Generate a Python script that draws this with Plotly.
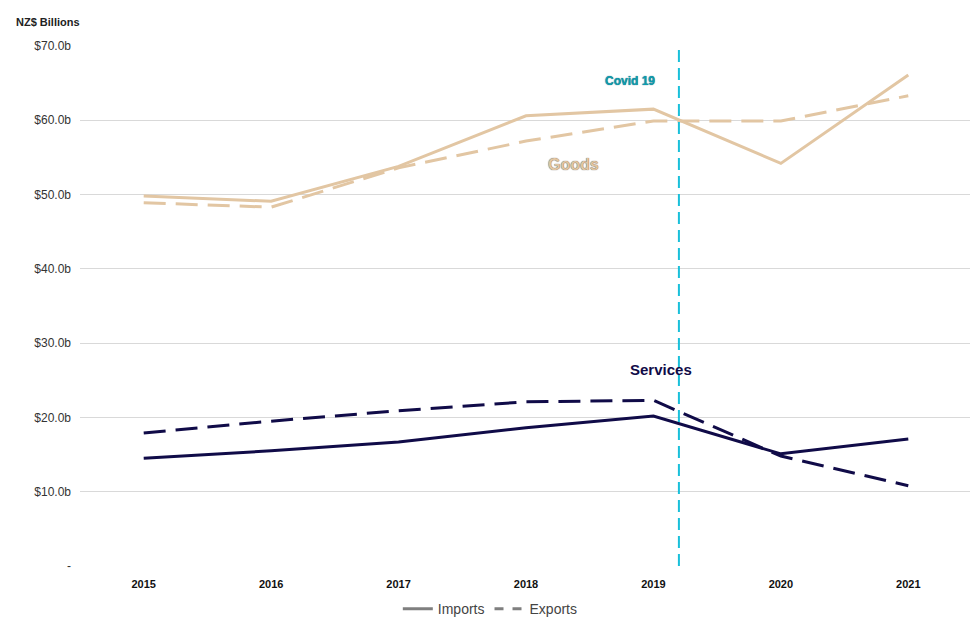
import plotly.graph_objects as go

# data
years = ["2015", "2016", "2017", "2018", "2019", "2020", "2021"]
goods_imports = [49.8, 49.1, 53.8, 60.6, 61.5, 54.2, 66.1]
goods_exports = [48.9, 48.3, 53.6, 57.2, 59.9, 59.9, 63.3]
services_imports = [14.5, 15.5, 16.7, 18.6, 20.2, 15.1, 17.1]
services_exports = [17.9, 19.5, 20.9, 22.1, 22.3, 14.8, 10.8]
y_ticks = [0, 10, 20, 30, 40, 50, 60, 70]
y_labels = ["-", "$10.0b", "$20.0b", "$30.0b", "$40.0b", "$50.0b", "$60.0b", "$70.0b"]
covid_pos = 4.2  # a bit after 2019

GOODS = "#E2C6A3"
SERVICES = "#100B48"
COVID = "#19C0DA"
DASH = "22px,10px"

xs = list(range(len(years)))

fig = go.Figure()
fig.add_trace(go.Scatter(x=xs, y=goods_imports, mode="lines", line=dict(color=GOODS, width=3), showlegend=False))
fig.add_trace(go.Scatter(x=xs, y=goods_exports, mode="lines", line=dict(color=GOODS, width=3, dash=DASH), showlegend=False))
fig.add_trace(go.Scatter(x=xs, y=services_imports, mode="lines", line=dict(color=SERVICES, width=3), showlegend=False))
fig.add_trace(go.Scatter(x=xs, y=services_exports, mode="lines", line=dict(color=SERVICES, width=3, dash=DASH), showlegend=False))

# grey legend entries
fig.add_trace(go.Scatter(x=[None], y=[None], mode="lines", name="Imports", line=dict(color="#7F7F7F", width=3)))
fig.add_trace(go.Scatter(x=[None], y=[None], mode="lines", name="Exports", line=dict(color="#7F7F7F", width=3, dash="dash")))

# covid marker line
fig.add_trace(go.Scatter(x=[covid_pos, covid_pos], y=[0, 70], mode="lines",
                         line=dict(color=COVID, width=2, dash="12px,6px"), showlegend=False, hoverinfo="skip"))

fig.add_annotation(x=covid_pos, y=65.3, text="<b>Covid 19</b>", showarrow=False, xanchor="right", xshift=-22,
                   font=dict(color="#0E9BB0", size=12, family="Liberation Sans", shadow="0px 0px 1px #0A4F5A"))
fig.add_annotation(x=3.37, y=54.1, text="<b>Goods</b>", showarrow=False,
                   font=dict(color=GOODS, size=16, family="Liberation Sans", shadow="0px 0px 1px #3A2E20"))
fig.add_annotation(x=4.06, y=26.5, text="<b>Services</b>", showarrow=False,
                   font=dict(color=SERVICES, size=15, family="Liberation Sans"))
fig.add_annotation(x=0, y=1, xref="paper", yref="paper", xshift=-66, yshift=32, xanchor="left",
                   text="<b>NZ$ Billions</b>", showarrow=False,
                   font=dict(color="#222222", size=11, family="Liberation Sans"))

fig.update_layout(
    width=978, height=640,
    margin=dict(l=72, r=14, t=38, b=82),
    plot_bgcolor="white", paper_bgcolor="white",
    font=dict(family="Liberation Sans", color="#222222"),
    xaxis=dict(tickvals=xs, ticktext=["<b>%s</b>" % y for y in years], range=[-0.5, 6.5],
               showgrid=False, zeroline=False, ticks="", tickfont=dict(size=11, color="#111111"),
               ticklabelstandoff=10),
    yaxis=dict(tickvals=y_ticks, ticktext=y_labels, range=[0, 70], showgrid=True, gridcolor="#D9D9D9",
               zeroline=False, ticks="", tickfont=dict(size=12, color="#333333"), ticklabelstandoff=8),
    legend=dict(orientation="h", x=0.46, xanchor="center", y=-0.052, yanchor="top",
                font=dict(size=14, color="#444444")),
    showlegend=True,
)

fig.write_html("out.html")
